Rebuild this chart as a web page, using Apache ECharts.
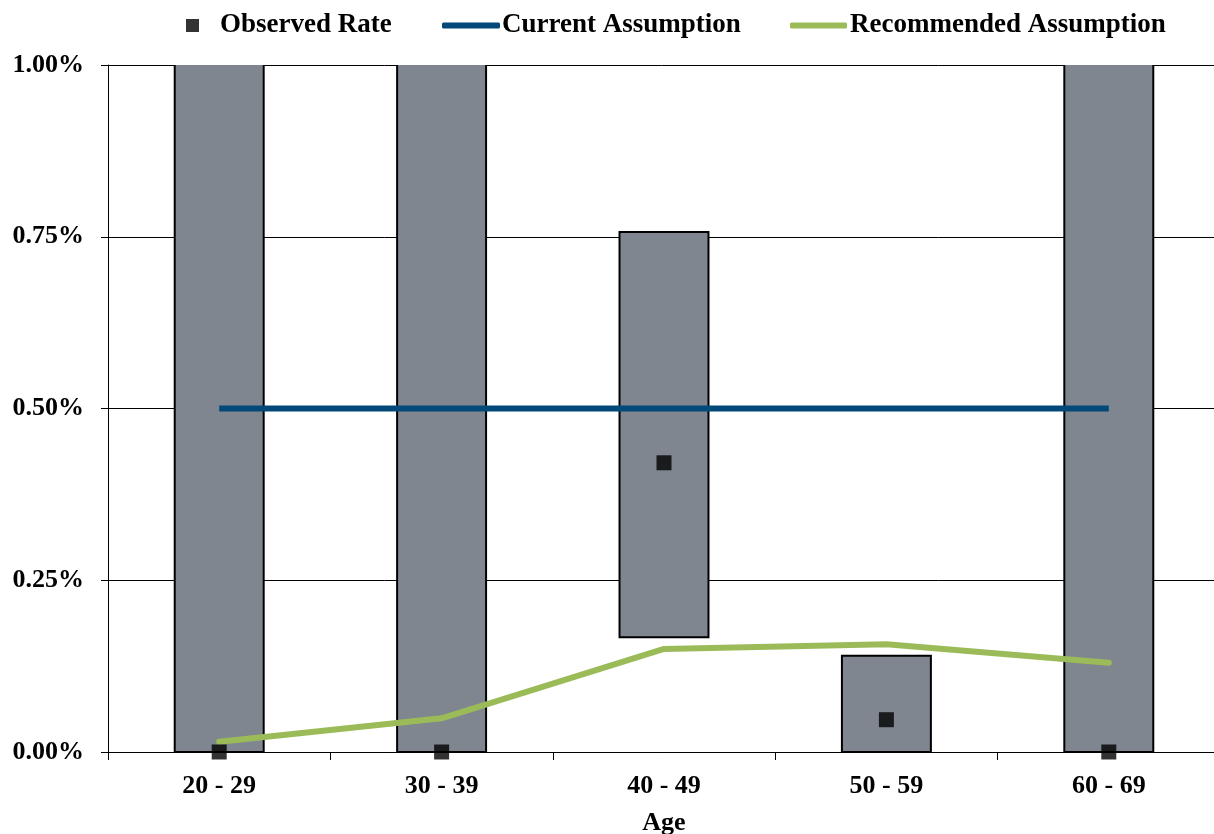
<!DOCTYPE html>
<html>
<head>
<meta charset="utf-8">
<script src="https://cdn.jsdelivr.net/npm/echarts@6/dist/echarts.min.js"></script>
<style>
  html, body { margin: 0; padding: 0; background: #ffffff; }
  #chart { width: 1214px; height: 834px; }
</style>
</head>
<body>
<div id="chart"></div>
<script>
// Age bands on the x axis
const categories = ['20 - 29', '30 - 39', '40 - 49', '50 - 59', '60 - 69'];
// Range bars: lower and upper bound of each band (percent)
const rangeLow = [0, 0, 0.167, 0, 0];
const rangeHigh = [1.2, 1.2, 0.757, 0.14, 1.2];
// Observed rate per band (percent)
const observedRate = [0, 0, 0.421, 0.047, 0];
// Current assumption (percent)
const currentAssumption = [0.5, 0.5, 0.5, 0.5, 0.5];
// Recommended assumption (percent)
const recommendedAssumption = [0.015, 0.049, 0.15, 0.157, 0.13];
// Y axis tick settings
const yMin = 0, yMax = 1, yStep = 0.25;

const FONT = 'Liberation Serif';
const BAR_FILL = '#7F868F';
const rangeData = categories.map((c, i) => [i, rangeLow[i], rangeHigh[i]]);

// Floating range bar: filled box with a black outline; when the bar runs past
// the plot area, it is cut at the edge and the cut side gets no outline.
function renderRange(params, api) {
  const cs = params.coordSys;
  const idx = api.value(0);
  const lo = api.coord([idx, api.value(1)]);
  const hi = api.coord([idx, api.value(2)]);
  const w = api.size([1, 0])[0] * 0.4;
  const x0 = lo[0] - w / 2, x1 = lo[0] + w / 2;
  const top = Math.max(hi[1], cs.y);
  const bottom = lo[1];
  const cutTop = hi[1] < cs.y;
  const pts = [[x0, top], [x0, bottom], [x1, bottom], [x1, top]];
  const outline = cutTop
    ? { type: 'polyline', shape: { points: pts },
        style: { fill: null, stroke: '#000', lineWidth: 2 } }
    : { type: 'polygon', shape: { points: pts },
        style: { fill: null, stroke: '#000', lineWidth: 2, lineJoin: 'miter' } };
  return {
    type: 'group',
    children: [
      { type: 'rect', shape: { x: x0, y: top, width: w, height: bottom - top },
        style: { fill: BAR_FILL } },
      outline
    ]
  };
}

const legendText = { fontFamily: FONT, fontWeight: 'bold', fontSize: 27, color: '#000' };

const chart = echarts.init(document.getElementById('chart'));
chart.setOption({
  animation: false,
  backgroundColor: '#ffffff',
  textStyle: { fontFamily: FONT },
  legend: [
    {
      data: [{ name: 'Observed Rate', icon: 'rect' }],
      left: 181, top: 7,
      itemWidth: 13, itemHeight: 13,
      textStyle: Object.assign({}, legendText, { padding: [0, 0, 0, 16] })
    },
    {
      data: [{ name: 'Current Assumption', icon: 'roundRect' }],
      left: 437, top: 7,
      itemWidth: 58, itemHeight: 6,
      textStyle: Object.assign({}, legendText, { padding: [0, 0, 0, -3] })
    },
    {
      data: [{ name: 'Recommended Assumption', icon: 'roundRect' }],
      left: 785, top: 7,
      itemWidth: 57, itemHeight: 6,
      textStyle: Object.assign({}, legendText, { padding: [0, 0, 0, -2] })
    }
  ],
  grid: { left: 108, top: 65, right: -6, bottom: 82, containLabel: false, outerBoundsMode: 'none' },
  xAxis: {
    type: 'category',
    data: categories,
    boundaryGap: true,
    name: 'Age',
    nameLocation: 'middle',
    nameGap: 58,
    nameTextStyle: { fontFamily: FONT, fontWeight: 'bold', fontSize: 26, color: '#000' },
    axisLine: { show: true, lineStyle: { color: '#000', width: 1 } },
    axisTick: { show: true, length: 8, lineStyle: { color: '#000' } },
    axisLabel: { fontFamily: FONT, fontWeight: 'bold', fontSize: 26, color: '#000', margin: 21 },
    splitLine: { show: false }
  },
  yAxis: {
    type: 'value',
    min: yMin, max: yMax, interval: yStep,
    axisLine: { show: true, lineStyle: { color: '#000', width: 1 } },
    axisTick: { show: true, length: 7, lineStyle: { color: '#000' } },
    axisLabel: {
      fontFamily: FONT, fontWeight: 'bold', fontSize: 26, color: '#000', margin: 24,
      formatter: v => v.toFixed(2) + '%'
    },
    splitLine: { show: true, lineStyle: { color: '#000', width: 1 } }
  },
  series: [
    {
      name: 'Range', type: 'custom', data: rangeData,
      renderItem: renderRange,
      encode: { x: 0, y: [1, 2] },
      clip: false, silent: true, z: 2
    },
    {
      name: 'Current Assumption', type: 'line', data: currentAssumption,
      symbol: 'none', color: '#02497A',
      lineStyle: { color: '#02497A', width: 6, cap: 'butt' },
      z: 3
    },
    {
      name: 'Recommended Assumption', type: 'line', data: recommendedAssumption,
      symbol: 'none', color: '#9BBB59',
      lineStyle: { color: '#9BBB59', width: 6, cap: 'round', join: 'round' },
      z: 4
    },
    {
      name: 'Observed Rate', type: 'scatter', data: observedRate,
      symbol: 'rect', symbolSize: 15, clip: false,
      itemStyle: { color: '#000' },
      z: 5
    }
  ]
});
</script>
</body>
</html>
